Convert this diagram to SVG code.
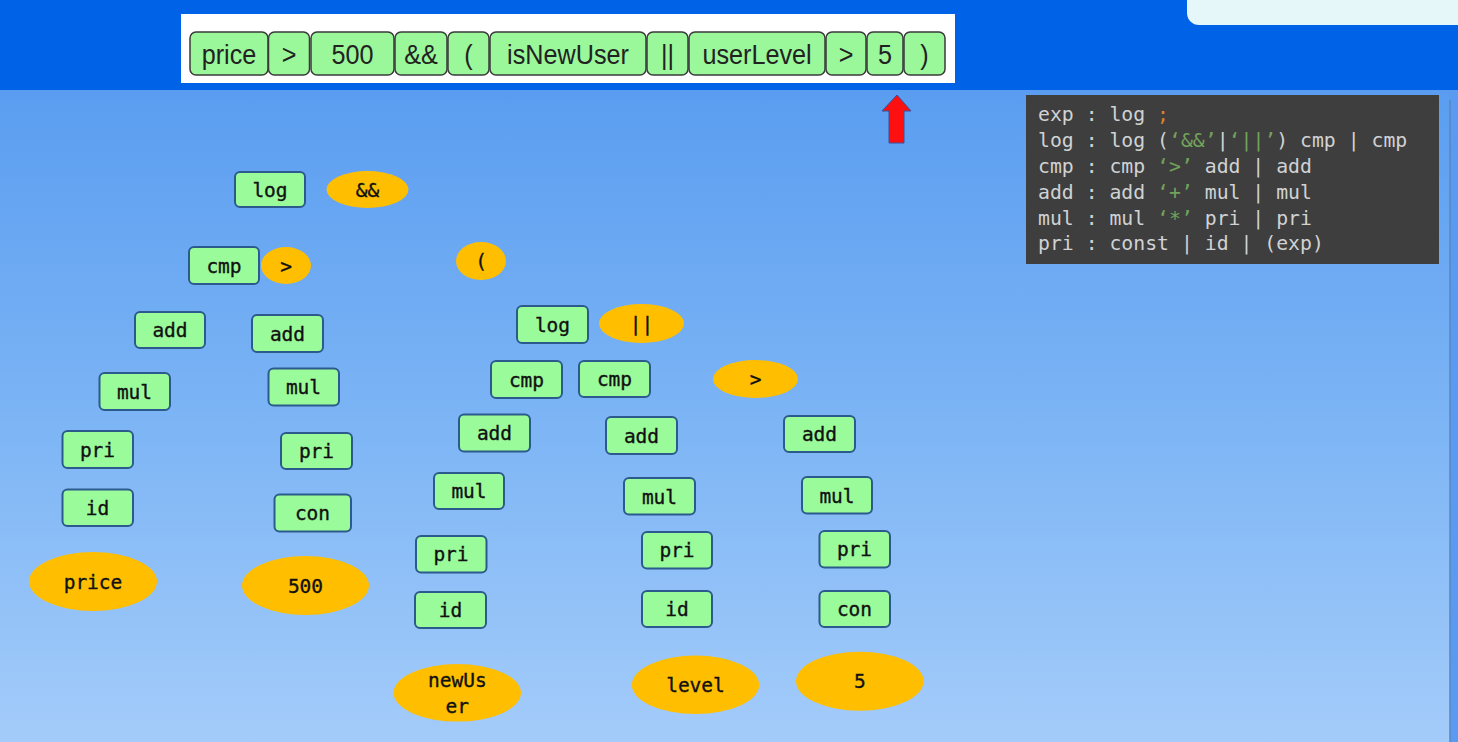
<svg xmlns="http://www.w3.org/2000/svg" width="1458" height="742" viewBox="0 0 1458 742">
<defs>
<linearGradient id="bg" x1="0" y1="0" x2="0" y2="1">
<stop offset="0" stop-color="#5a9df0"/>
<stop offset="0.5" stop-color="#7db5f5"/>
<stop offset="1" stop-color="#a6cdfa"/>
</linearGradient>
</defs>
<style>
.node rect{fill:#9afb9a;stroke:#2c5a8c;stroke-width:2}
.node ellipse{fill:#ffbf00}
.node text{font-family:"DejaVu Sans Mono","Liberation Mono",monospace;font-size:19.5px;fill:#111;stroke:#111;stroke-width:0.35;text-anchor:middle}
.tok rect{fill:#9af79a;stroke:#3a3a3a;stroke-width:1.5}
.tok text{font-family:"Liberation Sans",Arial,sans-serif;font-size:28px;fill:#222;text-anchor:middle}
.gram text{font-family:"DejaVu Sans Mono","Liberation Mono",monospace;font-size:19.8px;fill:#d0d2d4}
.gram .g{fill:#72a35a}
.gram .o{fill:#d8832a}
</style>
<!-- background -->
<rect x="0" y="0" width="1458" height="742" fill="#0062e6"/>
<rect x="1440" y="90" width="18" height="652" fill="#5a9af0"/>
<rect x="-20" y="90" width="1470" height="672" rx="10" fill="url(#bg)"/>
<line x1="1450" y1="100" x2="1450" y2="742" stroke="#5a86c4" stroke-width="1.5"/>
<rect x="1187" y="-12" width="290" height="37" rx="12" fill="#e6f7f9"/>
<!-- token bar -->
<rect x="181" y="14" width="774" height="69" fill="#ffffff"/>
<g id="tokens" class="tok">
<rect x="190" y="32" width="78" height="43" rx="6"/><text transform="translate(229,63.5) scale(0.9,1)">price</text>
<rect x="268.5" y="32" width="41" height="43" rx="6"/><text transform="translate(289,63.5) scale(0.9,1)">&gt;</text>
<rect x="311" y="32" width="83" height="43" rx="6"/><text transform="translate(352.5,63.5) scale(0.9,1)">500</text>
<rect x="395" y="32" width="52" height="43" rx="6"/><text transform="translate(421,63.5) scale(0.9,1)">&amp;&amp;</text>
<rect x="448" y="32" width="41" height="43" rx="6"/><text transform="translate(468.5,63.5) scale(0.9,1)">(</text>
<rect x="490" y="32" width="156" height="43" rx="6"/><text transform="translate(568,63.5) scale(0.9,1)">isNewUser</text>
<rect x="647" y="32" width="41" height="43" rx="6"/><text transform="translate(667.5,63.5) scale(0.9,1)">||</text>
<rect x="689" y="32" width="136" height="43" rx="6"/><text transform="translate(757,63.5) scale(0.9,1)">userLevel</text>
<rect x="826" y="32" width="40" height="43" rx="6"/><text transform="translate(846,63.5) scale(0.9,1)">&gt;</text>
<rect x="867" y="32" width="36" height="43" rx="6"/><text transform="translate(885,63.5) scale(0.9,1)">5</text>
<rect x="904" y="32" width="41" height="43" rx="6"/><text transform="translate(924.5,63.5) scale(0.9,1)">)</text>
</g>
<g id="pointer">
<polygon points="897,95 911,111 904,111 904,143 889,143 889,111 882,111" fill="#ff1010" stroke="#3a4f9a" stroke-width="1"/>
</g>
<!-- grammar -->
<g id="grammar" class="gram">
<rect x="1026" y="95" width="413" height="169" fill="#3e3e3e"/>
<text x="1038" y="121" xml:space="preserve">exp : log <tspan class="o">;</tspan></text>
<text x="1038" y="147" xml:space="preserve">log : log (<tspan class="g">‘&amp;&amp;’</tspan>|<tspan class="g">‘||’</tspan>) cmp | cmp</text>
<text x="1038" y="173" xml:space="preserve">cmp : cmp <tspan class="g">‘&gt;’</tspan> add | add</text>
<text x="1038" y="199" xml:space="preserve">add : add <tspan class="g">‘+’</tspan> mul | mul</text>
<text x="1038" y="224.5" xml:space="preserve">mul : mul <tspan class="g">‘*’</tspan> pri | pri</text>
<text x="1038" y="250" xml:space="preserve">pri : const | id | (exp)</text>
</g>
<g id="connectors"></g>
<!-- left subtree -->
<g id="n-log1" class="node"><rect x="235" y="172" width="70" height="35" rx="5"/><text x="270" y="196.5">log</text></g>
<g id="n-and" class="node"><ellipse cx="367.5" cy="189.5" rx="41" ry="18.5"/><text x="367.5" y="196.5">&amp;&amp;</text></g>
<g id="n-cmp1" class="node"><rect x="189" y="247" width="70" height="37" rx="5"/><text x="224" y="272.5">cmp</text></g>
<g id="n-gt1" class="node"><ellipse cx="286" cy="265.5" rx="25" ry="18.5"/><text x="286" y="272.5">&gt;</text></g>
<g id="n-add1" class="node"><rect x="135" y="312" width="70" height="36" rx="5"/><text x="170" y="337">add</text></g>
<g id="n-add2" class="node"><rect x="252" y="315" width="71" height="37" rx="5"/><text x="287.5" y="340.5">add</text></g>
<g id="n-mul1" class="node"><rect x="99.5" y="373" width="70.5" height="37" rx="5"/><text x="134.5" y="398.5">mul</text></g>
<g id="n-mul2" class="node"><rect x="268.5" y="368.5" width="70.5" height="37" rx="5"/><text x="303.5" y="394">mul</text></g>
<g id="n-pri1" class="node"><rect x="62.5" y="431" width="70.5" height="37" rx="5"/><text x="97.5" y="456.5">pri</text></g>
<g id="n-pri2" class="node"><rect x="281" y="433" width="71" height="36" rx="5"/><text x="316.5" y="458">pri</text></g>
<g id="n-id1" class="node"><rect x="62.5" y="489.5" width="70.5" height="36.5" rx="5"/><text x="97.5" y="514.5">id</text></g>
<g id="n-con1" class="node"><rect x="274.5" y="494.5" width="76.5" height="37" rx="5"/><text x="312.5" y="520">con</text></g>
<g id="n-price" class="node"><ellipse cx="93" cy="581.5" rx="64" ry="29.5"/><text x="93" y="588.5">price</text></g>
<g id="n-500" class="node"><ellipse cx="305.5" cy="585.5" rx="63.5" ry="29.5"/><text x="305.5" y="592.5">500</text></g>
<!-- right subtree -->
<g id="n-lparen" class="node"><ellipse cx="481" cy="261" rx="25" ry="19"/><text x="481" y="268">(</text></g>
<g id="n-log2" class="node"><rect x="517" y="306" width="71" height="37" rx="5"/><text x="552.5" y="331.5">log</text></g>
<g id="n-or" class="node"><ellipse cx="641.5" cy="323.5" rx="42.5" ry="19.5"/><text x="641.5" y="330.5">||</text></g>
<g id="n-cmp2" class="node"><rect x="491" y="361" width="71" height="37" rx="5"/><text x="526.5" y="386.5">cmp</text></g>
<g id="n-cmp3" class="node"><rect x="579" y="361" width="71" height="36" rx="5"/><text x="614.5" y="386">cmp</text></g>
<g id="n-gt2" class="node"><ellipse cx="755.5" cy="379" rx="42.5" ry="19"/><text x="755.5" y="386">&gt;</text></g>
<g id="n-add3" class="node"><rect x="459" y="414.5" width="71" height="37" rx="5"/><text x="494.5" y="440">add</text></g>
<g id="n-add4" class="node"><rect x="606" y="417" width="71" height="37" rx="5"/><text x="641.5" y="442.5">add</text></g>
<g id="n-add5" class="node"><rect x="784" y="416" width="71" height="36" rx="5"/><text x="819.5" y="441">add</text></g>
<g id="n-mul3" class="node"><rect x="434" y="473" width="70" height="36" rx="5"/><text x="469" y="498">mul</text></g>
<g id="n-mul4" class="node"><rect x="624" y="478" width="71" height="36.5" rx="5"/><text x="659.5" y="503.5">mul</text></g>
<g id="n-mul5" class="node"><rect x="802" y="477" width="70" height="36.5" rx="5"/><text x="837" y="502.5">mul</text></g>
<g id="n-pri3" class="node"><rect x="416" y="536" width="70.5" height="36.5" rx="5"/><text x="451" y="561">pri</text></g>
<g id="n-pri4" class="node"><rect x="642" y="532" width="70" height="36.5" rx="5"/><text x="677" y="557">pri</text></g>
<g id="n-pri5" class="node"><rect x="819.5" y="531" width="70.5" height="36.5" rx="5"/><text x="854.5" y="556">pri</text></g>
<g id="n-id3" class="node"><rect x="415" y="592" width="71" height="36" rx="5"/><text x="450.5" y="617">id</text></g>
<g id="n-id4" class="node"><rect x="642" y="591" width="70" height="36" rx="5"/><text x="677" y="616">id</text></g>
<g id="n-con5" class="node"><rect x="819.5" y="591" width="70.5" height="36" rx="5"/><text x="854.5" y="616">con</text></g>
<g id="n-newuser" class="node"><ellipse cx="457.3" cy="692.8" rx="63.7" ry="28.8"/><text x="457.3" y="687">newUs</text><text x="457.3" y="713">er</text></g>
<g id="n-level" class="node"><ellipse cx="695.5" cy="684.8" rx="63.7" ry="29.2"/><text x="695.5" y="692">level</text></g>
<g id="n-5" class="node"><ellipse cx="859.8" cy="681.2" rx="63.8" ry="29.5"/><text x="859.8" y="688.2">5</text></g>
</svg>
